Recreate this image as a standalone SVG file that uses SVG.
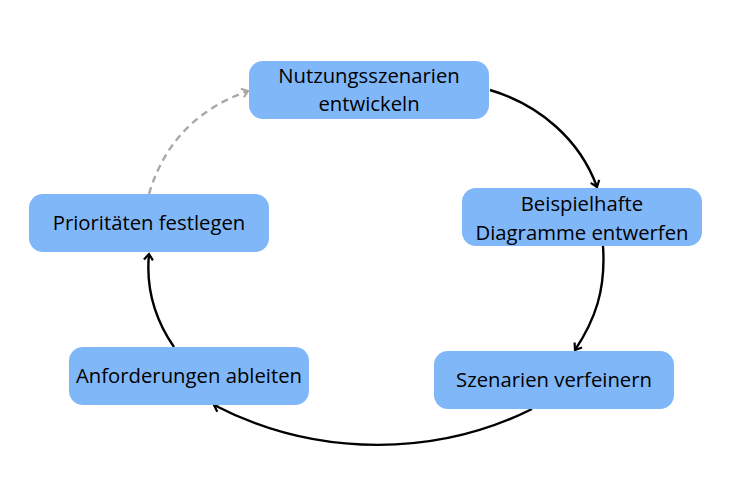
<svg xmlns="http://www.w3.org/2000/svg" width="740" height="498" viewBox="0 0 740 498">
<style>
.box{fill:#80b7f8;}
.lbl{font-family:"Open Sans","Liberation Sans",sans-serif;font-size:20.3px;fill:#000;text-anchor:middle;}
.c{fill:none;stroke:#000;stroke-width:2.4;}
.d{fill:none;stroke:#a8a8a8;stroke-width:2.4;stroke-dasharray:7 5;}
</style>
<defs>
<marker id="ab" markerWidth="12" markerHeight="12" refX="9" refY="6" orient="auto" markerUnits="userSpaceOnUse">
<path d="M3,1.5 L9,6 L3,10.5" fill="none" stroke="#000" stroke-width="2.2"/>
</marker>
<marker id="ag" markerWidth="12" markerHeight="12" refX="9" refY="6" orient="auto" markerUnits="userSpaceOnUse">
<path d="M3,1.5 L9,6 L3,10.5" fill="none" stroke="#a8a8a8" stroke-width="2.2"/>
</marker>
</defs>
<rect width="740" height="498" fill="#fff"/>
<g id="connectors">
<path class="c" d="M490,90 C540,105 580,140 597,187" marker-end="url(#ab)"/>
<path class="c" d="M603,246 C606,290 595,320 575,350" marker-end="url(#ab)"/>
<path class="c" d="M532,409 C440,455 320,460 214,405" marker-end="url(#ab)"/>
<path class="c" d="M174,347 C152,315 146,285 149,254" marker-end="url(#ab)"/>
<path class="d" d="M149,194 C165,140 200,108 248,91" marker-end="url(#ag)"/>
</g>
<g id="n1">
<rect class="box" x="249" y="61" width="240" height="58" rx="14"/>
<text class="lbl" x="369" y="83">Nutzungsszenarien</text>
<text class="lbl" x="369" y="111">entwickeln</text>
</g>
<g id="n2">
<rect class="box" x="462" y="188" width="240" height="58" rx="14"/>
<text class="lbl" x="582" y="211">Beispielhafte</text>
<text class="lbl" x="582" y="240">Diagramme entwerfen</text>
</g>
<g id="n3">
<rect class="box" x="434" y="351" width="240" height="58" rx="14"/>
<text class="lbl" x="554" y="387">Szenarien verfeinern</text>
</g>
<g id="n4">
<rect class="box" x="69" y="347" width="240" height="58" rx="14"/>
<text class="lbl" x="189" y="383">Anforderungen ableiten</text>
</g>
<g id="n5">
<rect class="box" x="29" y="194" width="240" height="58" rx="14"/>
<text class="lbl" x="149" y="230">Prioritäten festlegen</text>
</g>
</svg>
